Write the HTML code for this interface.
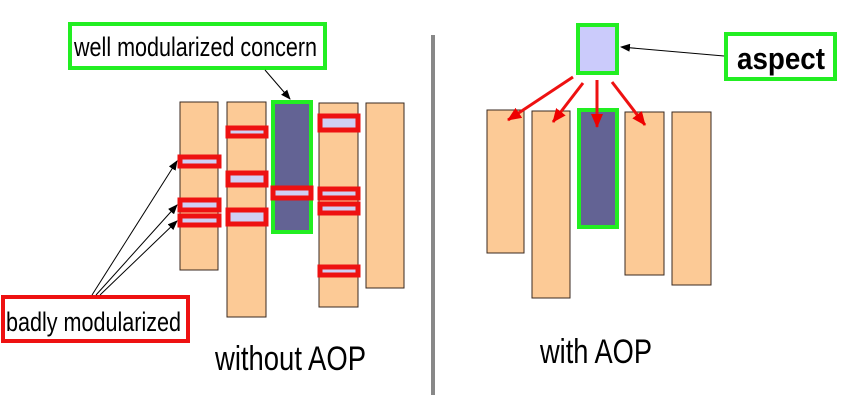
<!DOCTYPE html>
<html><head><meta charset="utf-8"><style>
html,body{margin:0;padding:0;background:#fff;}
svg{display:block;font-family:"Liberation Sans",sans-serif;}
</style></head><body>
<svg width="850" height="411" viewBox="0 0 850 411" xmlns="http://www.w3.org/2000/svg">
<defs>
<marker id="ab" markerWidth="10" markerHeight="8" refX="9" refY="4" orient="auto" markerUnits="userSpaceOnUse"><path d="M0,0 L10,4 L0,8 z" fill="#000"/></marker>
<marker id="ar" markerWidth="14" markerHeight="12" refX="13" refY="6" orient="auto" markerUnits="userSpaceOnUse"><path d="M0,0 L14,6 L0,12 z" fill="#e00"/></marker>
</defs>
<rect width="850" height="411" fill="#fff"/>
<g fill="#fcca96" stroke="#3a2a20" stroke-width="1">
<rect x="180" y="102" width="38" height="168"/>
<rect x="227" y="102" width="39" height="215"/>
<rect x="319" y="103" width="39" height="204"/>
<rect x="366" y="103" width="38" height="185"/>
</g>
<rect x="273" y="102" width="38" height="130" fill="#636394" stroke="#22ee22" stroke-width="4"/>
<g fill="#cfd0f4" stroke="#ee1111" stroke-width="5">
<rect x="180" y="157" width="39" height="9"/>
<rect x="180" y="200" width="39" height="10"/>
<rect x="180" y="216" width="39" height="9"/>
<rect x="228" y="128" width="38" height="8"/>
<rect x="228" y="173" width="38" height="12"/>
<rect x="228" y="210" width="38" height="14"/>
<rect x="273" y="188" width="38" height="10"/>
<rect x="320" y="116" width="38" height="14"/>
<rect x="320" y="189" width="38" height="9"/>
<rect x="320" y="204" width="38" height="9"/>
<rect x="320" y="267" width="38" height="8"/>
</g>
<rect x="70" y="24" width="255" height="44" fill="#fff" stroke="#22ee22" stroke-width="4"/>
<text x="74" y="56" font-size="27" textLength="243" lengthAdjust="spacingAndGlyphs">well modularized concern</text>
<line x1="265" y1="70" x2="290" y2="99" stroke="#000" stroke-width="1" marker-end="url(#ab)"/>
<rect x="3" y="297" width="185" height="44" fill="#fff" stroke="#ee1111" stroke-width="4"/>
<text x="6" y="331" font-size="27" textLength="175" lengthAdjust="spacingAndGlyphs">badly modularized</text>
<g stroke="#000" stroke-width="1" marker-end="url(#ab)">
<line x1="92" y1="295" x2="177" y2="161"/>
<line x1="96" y1="295" x2="177" y2="205"/>
<line x1="100" y1="295" x2="177" y2="221"/>
</g>
<text x="215" y="370" font-size="34" textLength="151" lengthAdjust="spacingAndGlyphs">without AOP</text>
<rect x="431" y="35" width="4" height="360" fill="#888"/>
<g fill="#fcca96" stroke="#3a2a20" stroke-width="1">
<rect x="487" y="110" width="37" height="143"/>
<rect x="532" y="111" width="38" height="187"/>
<rect x="625" y="112" width="39" height="163"/>
<rect x="672" y="112" width="39" height="173"/>
</g>
<rect x="579" y="110" width="38" height="117" fill="#636394" stroke="#22ee22" stroke-width="4"/>
<rect x="578" y="25" width="39" height="48" fill="#cbcbfb" stroke="#22ee22" stroke-width="4"/>
<rect x="726" y="34" width="109" height="45" fill="#fff" stroke="#22ee22" stroke-width="4"/>
<text x="737" y="69" font-size="31" font-weight="bold" textLength="88" lengthAdjust="spacingAndGlyphs">aspect</text>
<line x1="724" y1="56" x2="621" y2="47" stroke="#000" stroke-width="1" marker-end="url(#ab)"/>
<g stroke="#ee1111" stroke-width="3" marker-end="url(#ar)">
<line x1="573" y1="77" x2="508" y2="120"/>
<line x1="583" y1="83" x2="553" y2="122"/>
<line x1="597" y1="80" x2="597" y2="127"/>
<line x1="612" y1="82" x2="645" y2="125"/>
</g>
<text x="540" y="363" font-size="34" textLength="112" lengthAdjust="spacingAndGlyphs">with AOP</text>
</svg>
</body></html>
